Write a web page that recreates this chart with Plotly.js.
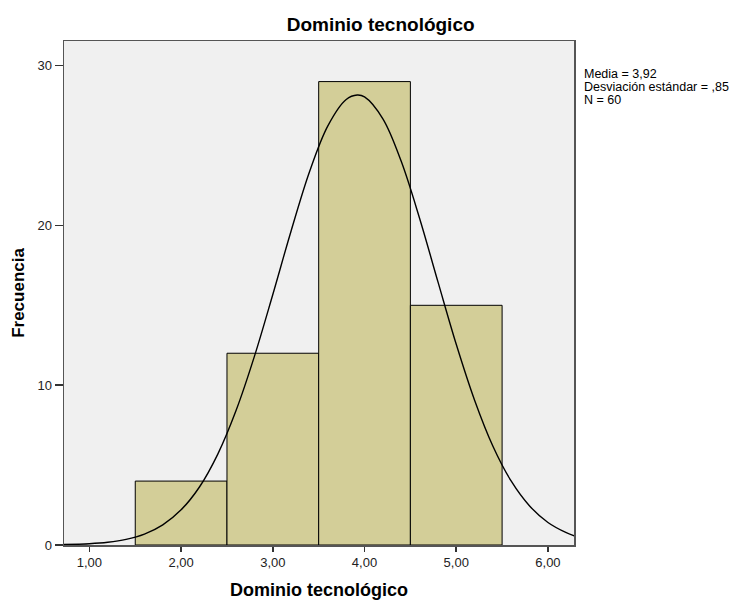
<!DOCTYPE html>
<html>
<head>
<meta charset="utf-8">
<script src="https://cdn.plot.ly/plotly-3.0.1.min.js"></script>
<style>html,body{margin:0;padding:0;background:#fff;}#chart{width:742px;height:603px;}</style>
</head>
<body>
<div id="chart"></div>
<script>
// Histogram bins (centres) and frequencies
var binCenters = [2, 3, 4, 5];
var frequencies = [4, 12, 29, 15];

// Normal curve
var curveX = [0.72, 1.0, 1.2, 1.4, 1.6, 1.8, 2.0, 2.2, 2.4, 2.6, 2.8, 3.0, 3.2, 3.4, 3.6, 3.8, 3.92, 4.0, 4.2, 4.4, 4.6, 4.8, 5.0, 5.2, 5.4, 5.6, 5.8, 6.0, 6.2, 6.29];
var curveY = [0.03, 0.08, 0.17, 0.35, 0.68, 1.26, 2.2, 3.63, 5.69, 8.43, 11.82, 15.68, 19.67, 23.36, 26.23, 27.88, 28.16, 28.04, 26.67, 24.01, 20.45, 16.48, 12.56, 9.06, 6.18, 3.99, 2.44, 1.41, 0.77, 0.57];

// Tick labels
var xTickVals = [1, 2, 3, 4, 5, 6];
var xTickText = ['1,00', '2,00', '3,00', '4,00', '5,00', '6,00'];
var yTickVals = [0, 10, 20, 30];

var statsLines = ['Media = 3,92', 'Desviación estándar = ,85', 'N = 60'];

var font = 'Arial, "Liberation Sans", sans-serif';

var traces = [
  {
    type: 'bar',
    x: binCenters,
    y: frequencies,
    width: 1,
    marker: {color: '#d3ce98', line: {color: '#000000', width: 1}},
    hoverinfo: 'x+y'
  },
  {
    type: 'scatter',
    mode: 'lines',
    x: curveX,
    y: curveY,
    line: {color: '#000000', width: 1.4, shape: 'spline', smoothing: 1},
    hoverinfo: 'skip'
  }
];

var statsY = [0.9345, 0.9087, 0.8829];
var annotations = statsLines.map(function (t, i) {
  return {
    text: t, xref: 'paper', yref: 'paper', x: 1.0, y: statsY[i],
    xshift: 8, xanchor: 'left', yanchor: 'middle', showarrow: false,
    font: {family: font, size: 12.5, color: '#000000'}
  };
});

var layout = {
  width: 742,
  height: 603,
  margin: {l: 64, r: 168, t: 41, b: 58},
  paper_bgcolor: '#ffffff',
  plot_bgcolor: '#f0f0f0',
  showlegend: false,
  bargap: 0,
  title: {
    text: '<b>Dominio tecnológico</b>',
    font: {family: font, size: 19, color: '#000000'},
    xref: 'container', x: 0.513, xanchor: 'center',
    yref: 'container', y: 0.96, yanchor: 'middle'
  },
  xaxis: {
    range: [0.723, 6.284],
    tickvals: xTickVals,
    ticktext: xTickText,
    ticks: 'outside', ticklen: 5, tickwidth: 1.5, tickcolor: '#333333',
    showgrid: false, zeroline: false,
    showline: true, linecolor: '#555555', linewidth: 1.5, mirror: true,
    tickfont: {family: font, size: 13, color: '#222222'},
    title: {text: '<b>Dominio tecnológico</b>', font: {family: font, size: 18, color: '#000000'}, standoff: 14}
  },
  yaxis: {
    range: [0, 31.54],
    tickvals: yTickVals,
    ticks: 'outside', ticklen: 8, tickwidth: 1.5, tickcolor: '#333333',
    showgrid: false, zeroline: false,
    showline: true, linecolor: '#555555', linewidth: 1.5, mirror: true,
    tickfont: {family: font, size: 13, color: '#222222'},
    title: {text: '<b>Frecuencia</b>', font: {family: font, size: 17, color: '#000000'}, standoff: 8}
  },
  annotations: annotations
};

Plotly.newPlot('chart', traces, layout, {displayModeBar: false, staticPlot: true});
</script>
</body>
</html>
